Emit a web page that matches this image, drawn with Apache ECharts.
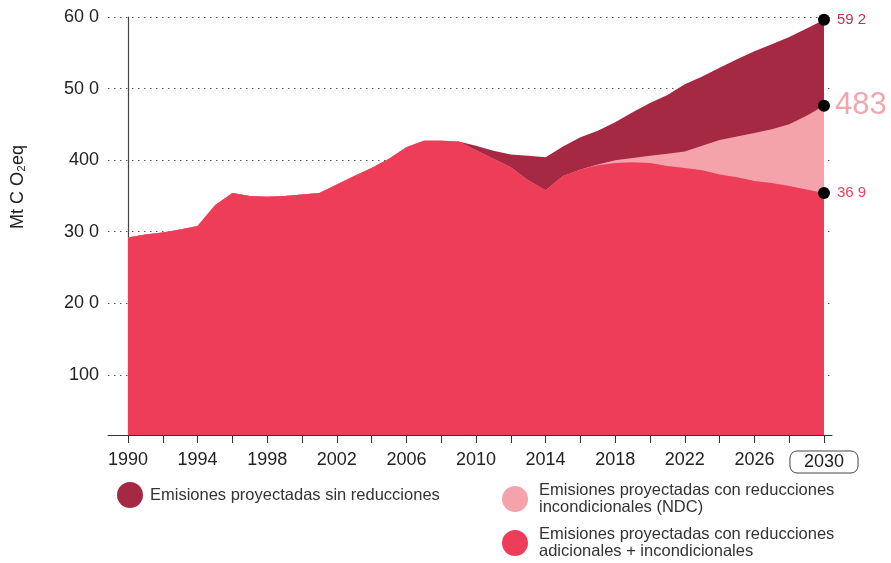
<!DOCTYPE html>
<html>
<head>
<meta charset="utf-8">
<script src="https://cdn.jsdelivr.net/npm/echarts@6/dist/echarts.min.js"></script>
<style>
html,body{margin:0;padding:0;background:#fff;}
#chart{width:891px;height:563px;}
</style>
</head>
<body>
<div id="chart"></div>
<script>
// ---- data ----
const histYears = [1990,1991,1992,1993,1994,1995,1996,1997,1998,1999,2000,2001,2002,2003,2004,2005,2006,2007,2008,2009];
const histValues = [29.2,29.6,29.9,30.3,30.8,33.7,35.4,35.0,34.9,35.0,35.2,35.4,36.6,37.8,38.9,40.2,41.8,42.7,42.7,42.6];
const projYears = [2010,2011,2012,2013,2014,2015,2016,2017,2018,2019,2020,2021,2022,2023,2024,2025,2026,2027,2028,2029,2030];
const sinReducciones = [42.0,41.3,40.8,40.6,40.4,41.9,43.2,44.1,45.3,46.7,48.0,49.1,50.6,51.7,52.9,54.1,55.2,56.2,57.2,58.4,59.6];
const incondicionalesNDC = [41.4,40.2,39.0,37.2,35.8,37.8,38.7,39.4,40.0,40.3,40.6,40.9,41.2,42.0,42.8,43.3,43.8,44.3,45.0,46.2,47.6];
const adicionales = [41.4,40.2,39.0,37.2,35.8,37.8,38.7,39.3,39.6,39.7,39.6,39.2,38.9,38.6,38.0,37.6,37.1,36.8,36.4,35.9,35.4];
const seriesNames = [
  'Emisiones proyectadas sin reducciones',
  'Emisiones proyectadas con reducciones incondicionales (NDC)',
  'Emisiones proyectadas con reducciones adicionales + incondicionales'
];
const legendTexts = [
  'Emisiones proyectadas sin reducciones',
  'Emisiones proyectadas con reducciones\nincondicionales (NDC)',
  'Emisiones proyectadas con reducciones\nadicionales + incondicionales'
];
const endLabels = ['59 2','483','36 9'];
const yTickValues = [10,20,30,40,50,60];
const yTickLabels = ['100','20 0','30 0','400','50 0','60 0'];
const xTickValues = [1990,1992,1994,1996,1998,2000,2002,2004,2006,2008,2010,2012,2014,2016,2018,2020,2022,2024,2026,2028,2030];
const xLabelValues = [1990,1994,1998,2002,2006,2010,2014,2018,2022,2026,2030];
const yAxisTitle = 'Mt C O\u2082eq';

// ---- styles ----
const colors = ['#a52942','#f5a3ab','#ee3d59'];
const labelColors = ['#c0344c','#f2a7ae','#e8455c'];
const labelSizes = [15,31,15];
const legendPos = [[117,482],[502,482],[502,526]];
const legendTextPad = [2,6,6];
const FONT = '"Liberation Sans", Arial, sans-serif';

function buildData(proj, idx){
  const years = histYears.concat(projYears);
  const vals = histValues.concat(proj);
  return years.map((y,i)=>{
    if(i === years.length-1){
      return {
        value:[y, vals[i]],
        symbol:'circle', symbolSize:12,
        itemStyle:{color:'#000'},
        label:{show:true, position:'right', distance:idx===1?5:7, formatter:endLabels[idx],
               color:labelColors[idx], fontSize:labelSizes[idx], fontFamily:FONT}
      };
    }
    return [y, vals[i]];
  });
}
const projections = [sinReducciones, incondicionalesNDC, adicionales];

const chart = echarts.init(document.getElementById('chart'), null, {renderer:'canvas'});
const option = {
  backgroundColor:'#fff',
  animation:false,
  grid:{left:108, right:59, top:17, bottom:128, containLabel:false},
  xAxis:{
    type:'value', min:1988.85, max:2030.46,
    axisLine:{show:true, lineStyle:{color:'#333', width:1}},
    axisTick:{show:true, length:8, customValues:xTickValues, lineStyle:{color:'#333'}},
    axisLabel:{
      customValues:xLabelValues, margin:16, color:'#222', fontSize:18, fontFamily:FONT,
      formatter:(v)=> v===2030 ? '{box|2030}' : String(v),
      rich:{box:{borderColor:'#444', borderWidth:1, borderRadius:7, padding:[2,14,2,14],
                 color:'#222', fontSize:18, fontFamily:FONT}}
    },
    splitLine:{show:false}
  },
  yAxis:{
    type:'value', min:1.6, max:60, offset:-20,
    axisLine:{show:true, lineStyle:{color:'#444', width:1.2}},
    axisTick:{show:false, customValues:yTickValues},
    axisLabel:{customValues:yTickValues, margin:29, color:'#222', fontSize:18, fontFamily:FONT,
      formatter:(v)=>{const i=yTickValues.indexOf(v); return i>=0?yTickLabels[i]:'';}},
    splitLine:{show:true, lineStyle:{color:'#555', width:1, type:[1.5,4.5]}}
  },
  legend: seriesNames.map((n,i)=>({
    data:[n], left:legendPos[i][0], top:legendPos[i][1], padding:0,
    icon:'circle', itemWidth:26, itemHeight:26,
    formatter:(name)=>legendTexts[seriesNames.indexOf(name)],
    textStyle:{color:'#333', fontSize:16.5, fontFamily:FONT, lineHeight:17, padding:[0,0,0,legendTextPad[i]]},
    selectedMode:false
  })),
  graphic:[{
    type:'text', x:18, y:187, rotation:Math.PI/2,
    style:{text:yAxisTitle, fill:'#222', font:'18px '+FONT, textAlign:'center', textVerticalAlign:'middle'}
  }],
  series: projections.map((p,idx)=>({
    name:seriesNames[idx], type:'line', data:buildData(p, idx),
    symbol:'none', showSymbol:true, smooth:false,
    lineStyle:{width:0, color:colors[idx]},
    itemStyle:{color:colors[idx]},
    areaStyle:{color:colors[idx], opacity:1},
    z:2+idx
  }))
};
chart.setOption(option);
</script>
</body>
</html>
